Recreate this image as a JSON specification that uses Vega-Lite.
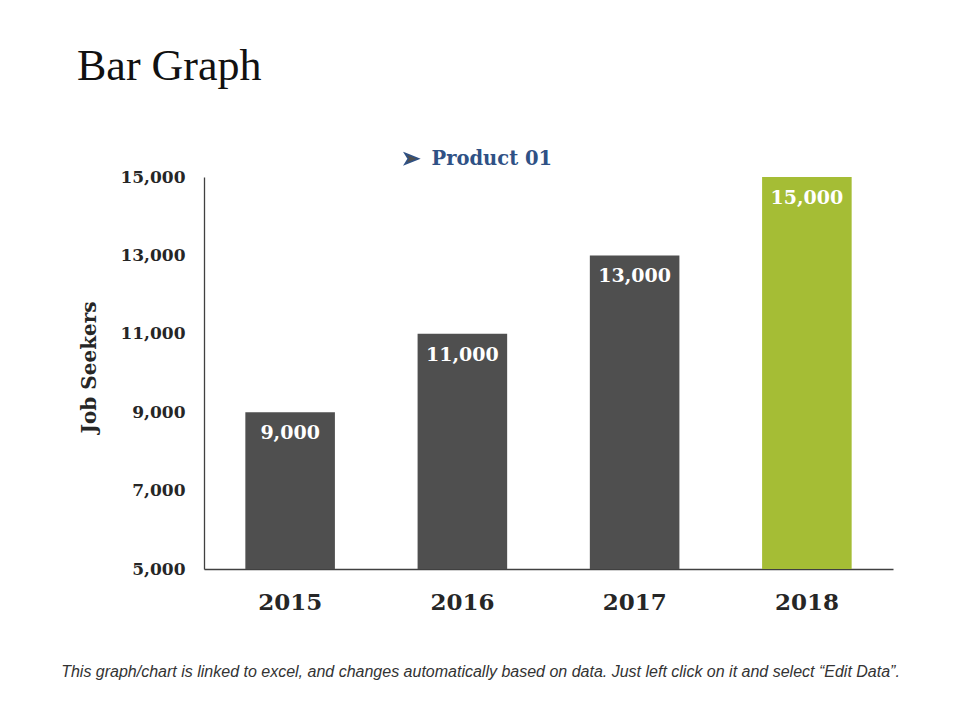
{
  "$schema": "https://vega.github.io/schema/vega-lite/v6.json",
  "autosize": {"type": "none"},
  "width": 689,
  "height": 392,
  "padding": {"left": 204, "top": 177, "right": 67, "bottom": 151},
  "background": "white",
  "title": {
    "text": "Bar Graph",
    "font": "Liberation Serif",
    "fontSize": 44,
    "fontWeight": "normal",
    "color": "#111111",
    "anchor": "start",
    "frame": "group",
    "dx": -127,
    "baseline": "alphabetic",
    "offset": 25
  },
  "data": {
    "values": [
      {"year": "2015", "seekers": 9000, "series": "Product 01"},
      {"year": "2016", "seekers": 11000, "series": "Product 01"},
      {"year": "2017", "seekers": 13000, "series": "Product 01"},
      {"year": "2018", "seekers": 15000, "series": "Product 01"}
    ]
  },
  "encoding": {
    "x": {
      "field": "year",
      "type": "ordinal",
      "scale": {"paddingInner": 0.48, "paddingOuter": 0.24},
      "axis": {
        "title": "This graph/chart is linked to excel, and changes automatically based on data. Just left click on it and select “Edit Data”.",
        "titleFont": "Liberation Sans",
        "titleFontStyle": "italic",
        "titleFontWeight": "normal",
        "titleFontSize": 16,
        "titleColor": "#333333",
        "titleX": 276,
        "titleY": 107,
        "titleAlign": "center",
        "titleBaseline": "alphabetic",
        "labelFont": "DejaVu Serif",
        "labelFontWeight": "bold",
        "labelFontSize": 23,
        "labelColor": "#262626",
        "labelAngle": 0,
        "labelPadding": 22,
        "ticks": false,
        "domainColor": "#404040",
        "domainWidth": 1.3
      }
    },
    "y": {
      "field": "seekers",
      "type": "quantitative",
      "scale": {"domain": [5000, 15000], "zero": false},
      "axis": {
        "title": "Job Seekers",
        "titleFont": "DejaVu Serif",
        "titleFontWeight": "bold",
        "titleFontSize": 20,
        "titleColor": "#262626",
        "titlePadding": 20,
        "titleY": 190,
        "values": [5000, 7000, 9000, 11000, 13000, 15000],
        "format": ",.0f",
        "labelFont": "DejaVu Serif",
        "labelFontWeight": "bold",
        "labelFontSize": 17,
        "labelColor": "#262626",
        "labelPadding": 19,
        "ticks": false,
        "grid": false,
        "domainColor": "#404040",
        "domainWidth": 1.3
      }
    }
  },
  "layer": [
    {
      "mark": {"type": "bar"},
      "encoding": {
        "y2": {"datum": 5000},
        "color": {
          "field": "series",
          "type": "nominal",
          "condition": {"test": "datum.year === '2018'", "value": "#a5bd35"},
          "scale": {"range": ["#4f4f4f"]},
          "legend": {
            "title": null,
            "orient": "none",
            "legendX": 198,
            "legendY": -28,
            "symbolType": "M-1,-0.8L1,0L-1,0.8L-0.5,0Z",
            "symbolSize": 190,
            "labelFont": "DejaVu Serif",
            "labelFontWeight": "bold",
            "labelFontSize": 19.5,
            "labelColor": "#2f5185",
            "labelOffset": 10,
            "encode": {
              "symbols": {
                "update": {
                  "fill": {"value": "#2f5185"},
                  "stroke": {"value": "#2f5185"},
                  "opacity": {"value": 1}
                }
              }
            }
          }
        }
      }
    },
    {
      "mark": {
        "type": "text",
        "baseline": "middle",
        "dy": 21,
        "font": "DejaVu Serif",
        "fontWeight": "bold",
        "fontSize": 19,
        "color": "white"
      },
      "encoding": {
        "text": {"field": "seekers", "type": "quantitative", "format": ",.0f"}
      }
    }
  ],
  "config": {"view": {"stroke": null}}
}
